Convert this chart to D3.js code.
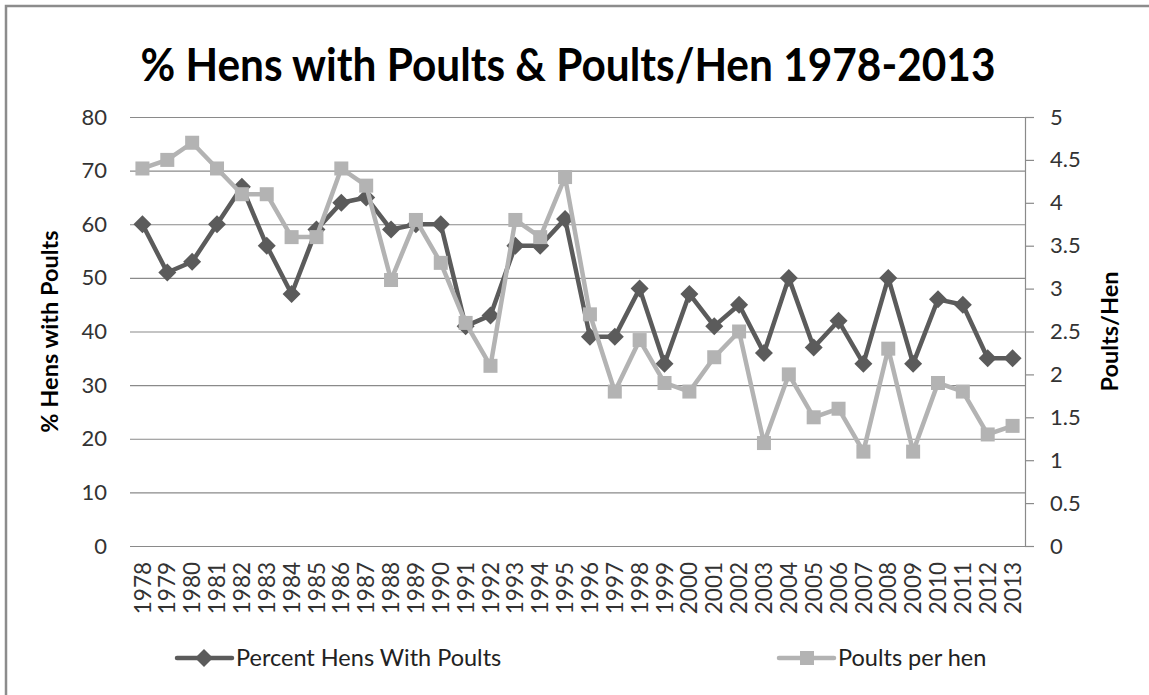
<!DOCTYPE html>
<html>
<head>
<meta charset="utf-8">
<script src="https://cdn.jsdelivr.net/npm/d3@7"></script>
<style>
  body { margin: 0; background: #fff; overflow: hidden; }
  text { font-family: Lato, "Open Sans", sans-serif; }
</style>
</head>
<body>
<div id="plot"></div>
<script>
const w = 1149;
const h = 695;
const margin = { top: 117, right: 124, bottom: 149, left: 130 };
const innerWidth = w - margin.left - margin.right;
const innerHeight = h - margin.top - margin.bottom;

const years = d3.range(1978, 2014);
const pctHens = [60, 51, 53, 60, 67, 56, 47, 59, 64, 65, 59, 60, 60, 41, 43, 56, 56, 61,
  39, 39, 48, 34, 47, 41, 45, 36, 50, 37, 42, 34, 50, 34, 46, 45, 35, 35];
const poultsPerHen = [4.4, 4.5, 4.7, 4.4, 4.1, 4.1, 3.6, 3.6, 4.4, 4.2, 3.1, 3.8, 3.3, 2.6, 2.1, 3.8, 3.6, 4.3,
  2.7, 1.8, 2.4, 1.9, 1.8, 2.2, 2.5, 1.2, 2.0, 1.5, 1.6, 1.1, 2.3, 1.1, 1.9, 1.8, 1.3, 1.4];
const leftTicks = [0, 10, 20, 30, 40, 50, 60, 70, 80];
const rightTicks = [0, 0.5, 1, 1.5, 2, 2.5, 3, 3.5, 4, 4.5, 5];

const darkColor = "#5b5b5b";
const lightColor = "#b3b3b3";
const gridColor = "#8a8a8a";

const svg = d3.select("div#plot")
  .append("svg")
  .attr("width", w)
  .attr("height", h)
  .style("display", "block");

// outer frame of the embedded chart (left and top edges only are visible)
svg.append("path")
  .attr("d", `M6,${h}V6H${w}`)
  .attr("fill", "none")
  .attr("stroke", "#8c8c8c")
  .attr("stroke-width", 2.5);

const xScale = d3.scaleBand()
  .domain(years)
  .range([0, innerWidth]);

const yLeft = d3.scaleLinear()
  .domain([0, 80])
  .range([innerHeight, 0]);

const yRight = d3.scaleLinear()
  .domain([0, 5])
  .range([innerHeight, 0]);

const cx = d => xScale(d) + xScale.bandwidth() / 2;

const plotGroup = svg.append("g")
  .attr("transform", `translate(${margin.left}, ${margin.top})`);

// gridlines
const grid = plotGroup.append("g")
  .call(d3.axisLeft(yLeft).tickValues(leftTicks).tickSize(-innerWidth).tickFormat(""));
grid.select(".domain").remove();
grid.selectAll("line").attr("stroke", gridColor).attr("stroke-width", 1.2);

// left axis labels
const leftAxis = plotGroup.append("g")
  .call(d3.axisLeft(yLeft).tickValues(leftTicks).tickSize(0).tickPadding(23));
leftAxis.select(".domain").remove();
leftAxis.selectAll("text")
  .attr("font-size", "22px")
  .attr("fill", "#333")
  .style("font-family", "Lato, sans-serif");

// right axis
const rightAxis = plotGroup.append("g")
  .attr("transform", `translate(${innerWidth}, 0)`)
  .call(d3.axisRight(yRight).tickValues(rightTicks).tickSize(9).tickSizeOuter(0).tickPadding(16)
    .tickFormat(d => String(d)));
rightAxis.select(".domain").attr("stroke", gridColor).attr("stroke-width", 1.2);
rightAxis.selectAll("line").attr("stroke", gridColor).attr("stroke-width", 1.2);
rightAxis.selectAll("text")
  .attr("font-size", "22px")
  .attr("fill", "#333")
  .style("font-family", "Lato, sans-serif");

// x axis labels
const xAxis = plotGroup.append("g")
  .attr("transform", `translate(0, ${innerHeight})`)
  .call(d3.axisBottom(xScale).tickSize(0));
xAxis.select(".domain").remove();
xAxis.selectAll("text")
  .attr("transform", "rotate(-90)")
  .attr("x", -16)
  .attr("y", 0)
  .attr("dy", "0.36em")
  .attr("text-anchor", "end")
  .attr("font-size", "22.5px")
  .attr("fill", "#333")
  .style("font-family", "Lato, sans-serif");

// series lines
const lineLeft = d3.line()
  .x((d, i) => cx(years[i]))
  .y(d => yLeft(d));

const lineRight = d3.line()
  .x((d, i) => cx(years[i]))
  .y(d => yRight(d));

plotGroup.append("path")
  .datum(pctHens)
  .attr("d", lineLeft)
  .attr("fill", "none")
  .attr("stroke", darkColor)
  .attr("stroke-width", 4.5)
  .attr("stroke-linejoin", "round");

plotGroup.selectAll(".diamond")
  .data(pctHens)
  .enter()
  .append("path")
  .attr("class", "diamond")
  .attr("d", "M0,-9L9,0L0,9L-9,0Z")
  .attr("transform", (d, i) => `translate(${cx(years[i])}, ${yLeft(d)})`)
  .attr("fill", darkColor);

plotGroup.append("path")
  .datum(poultsPerHen)
  .attr("d", lineRight)
  .attr("fill", "none")
  .attr("stroke", lightColor)
  .attr("stroke-width", 4.5)
  .attr("stroke-linejoin", "round");

plotGroup.selectAll(".square")
  .data(poultsPerHen)
  .enter()
  .append("rect")
  .attr("class", "square")
  .attr("x", (d, i) => cx(years[i]) - 7)
  .attr("y", d => yRight(d) - 7)
  .attr("width", 14)
  .attr("height", 14)
  .attr("fill", lightColor);

// title
svg.append("text")
  .attr("x", 568)
  .attr("y", 81)
  .attr("text-anchor", "middle")
  .attr("font-size", "45px")
  .attr("font-weight", "bold")
  .attr("fill", "#000")
  .attr("textLength", 855)
  .attr("lengthAdjust", "spacingAndGlyphs")
  .text("% Hens with Poults & Poults/Hen 1978-2013");

// axis titles
svg.append("text")
  .attr("transform", `translate(58, ${margin.top + innerHeight / 2}) rotate(-90)`)
  .attr("text-anchor", "middle")
  .attr("font-size", "23.5px")
  .attr("font-weight", "bold")
  .attr("fill", "#000")
  .text("% Hens with Poults");

svg.append("text")
  .attr("transform", `translate(1118, ${margin.top + innerHeight / 2}) rotate(-90)`)
  .attr("text-anchor", "middle")
  .attr("font-size", "23.5px")
  .attr("font-weight", "bold")
  .attr("fill", "#000")
  .text("Poults/Hen");

// legend
const legendItems = [
  { label: "Percent Hens With Poults", color: darkColor, shape: "diamond", x: 177 },
  { label: "Poults per hen", color: lightColor, shape: "square", x: 779 }
];
const legendY = 658;

const legend = svg.selectAll(".legend")
  .data(legendItems)
  .enter()
  .append("g")
  .attr("class", "legend")
  .attr("transform", d => `translate(${d.x}, ${legendY})`);

legend.append("line")
  .attr("x1", 0)
  .attr("x2", 55)
  .attr("stroke", d => d.color)
  .attr("stroke-width", 4.5)
  .attr("stroke-linecap", "round");

legend.append("path")
  .attr("d", d => d.shape === "diamond" ? "M27,-9L36,0L27,9L18,0Z" : "M21,-7H35V7H21Z")
  .attr("fill", d => d.color);

legend.append("text")
  .attr("x", 59)
  .attr("dy", "0.35em")
  .attr("font-size", "23.5px")
  .attr("fill", "#222")
  .text(d => d.label);
</script>
</body>
</html>
